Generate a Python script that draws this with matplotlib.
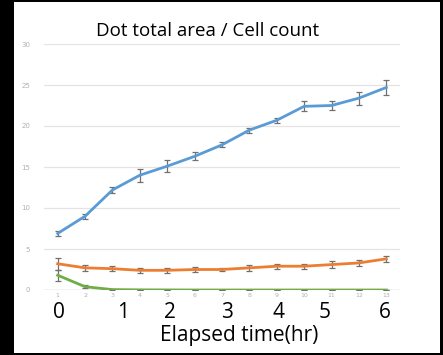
import matplotlib
matplotlib.use("Agg")
import matplotlib.pyplot as plt
from matplotlib.transforms import offset_copy

# Data
categories = list(range(1, 14))
blue_vals = [6.9, 9.0, 12.2, 14.0, 15.1, 16.3, 17.7, 19.5, 20.7, 22.4, 22.5, 23.4, 24.7]
blue_err = [0.3, 0.3, 0.4, 0.8, 0.7, 0.5, 0.3, 0.3, 0.3, 0.6, 0.6, 0.8, 0.9]
orange_vals = [3.2, 2.7, 2.6, 2.4, 2.4, 2.5, 2.5, 2.7, 2.9, 2.9, 3.1, 3.3, 3.8]
orange_err = [0.7, 0.4, 0.3, 0.3, 0.3, 0.3, 0.2, 0.4, 0.3, 0.3, 0.4, 0.4, 0.4]
green_vals = [1.8, 0.4, 0.05, 0.02, 0.01, 0.0, 0.0, 0.0, 0.0, 0.0, 0.0, 0.0, 0.0]
green_err = [0.7, 0.2, 0.05, 0.0, 0.0, 0.0, 0.0, 0.0, 0.0, 0.0, 0.0, 0.0, 0.0]
yticks = [0, 5, 10, 15, 20, 25, 30]
hour_labels = ["0", "1", "2", "3", "4", "5", "6"]
hour_positions = [1.05, 3.4, 5.1, 7.2, 9.05, 10.75, 12.95]

W, H = 443, 355
fig = plt.figure(figsize=(W / 100, H / 100), dpi=100, facecolor="black")

# white panel
bg = fig.add_axes([14 / W, 2 / H, (440 - 14) / W, (353 - 2) / H], zorder=-5)
bg.set_facecolor("white")
bg.set_xticks([])
bg.set_yticks([])
for s in bg.spines.values():
    s.set_visible(False)

x0, x1 = 44, 400
y_top, y_bot = 44, 290
ax = fig.add_axes([x0 / W, 1 - y_bot / H, (x1 - x0) / W, (y_bot - y_top) / H], zorder=1)
ax.set_facecolor("none")
ax.set_xlim(0.5, 13.5)
ax.set_ylim(0, 30)
for s in ax.spines.values():
    s.set_visible(False)
ax.set_yticks(yticks)
ax.grid(axis="y", color="#e4e4e4", linewidth=0.9)
ax.axhline(0, color="#d0d0d0", linewidth=1.0, zorder=1)
ax.tick_params(axis="y", length=0, labelsize=5, labelcolor="#b0b0b0", pad=10)
ax.set_xticks(categories)
ax.set_xticklabels([str(c) for c in categories])
ax.tick_params(axis="x", length=0, labelsize=4.5, labelcolor="#b0b0b0", pad=2)

series = [(blue_vals, blue_err, "#5B9BD5"),
          (orange_vals, orange_err, "#ED7D31"),
          (green_vals, green_err, "#70AD47")]
for vals, err, col in series:
    ax.errorbar(categories, vals, yerr=err, color=col, linewidth=2.0,
                ecolor="#707070", elinewidth=0.9, capsize=2, capthick=0.9, zorder=3)

# big hour labels
trans = offset_copy(ax.get_xaxis_transform(), fig=fig, x=0, y=-12, units="dots")
for lab, pos in zip(hour_labels, hour_positions):
    ax.text(pos, 0, lab, transform=trans, ha="center",
            va="top", fontsize=15, color="black", fontfamily="Open Sans")

fig.text(239 / W, 1 - 336 / H, "Elapsed time(hr)", ha="center", va="center",
         fontsize=15, color="black", fontfamily="Open Sans")
fig.text(208 / W, 1 - 31 / H, "Dot total area / Cell count", ha="center",
         va="center", fontsize=13.5, color="black", fontfamily="Open Sans")

fig.savefig("out.png", dpi=100, facecolor="black")
